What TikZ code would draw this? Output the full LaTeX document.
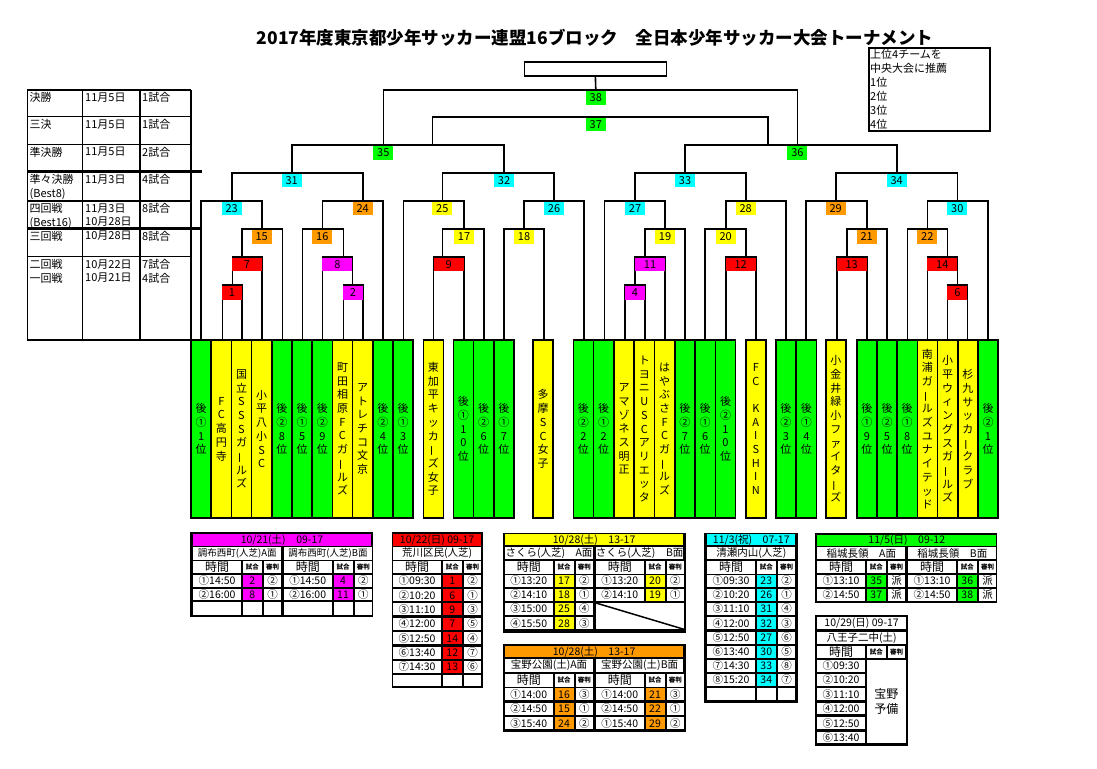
\documentclass[tikz,border=0pt]{standalone}
\usepackage{fontspec}
\setmainfont{Noto Sans CJK JP}
\usepackage{graphicx}
\usetikzlibrary{positioning}
\definecolor{mgreen}{RGB}{0,255,0}
\definecolor{myellow}{RGB}{255,255,0}
\definecolor{mcyan}{RGB}{0,255,255}
\definecolor{mmag}{RGB}{255,0,255}
\definecolor{mred}{RGB}{255,0,0}
\definecolor{morange}{RGB}{255,153,0}
\makeatletter
\def\vbarch{ー}
\newcommand\vstack[1]{\vbox{\baselineskip=13.7pt\lineskiplimit=-20pt\lineskip=0pt
  \@tfor\vch:=#1\do{\hbox to 14pt{\hss\ifx\vch\vbarch\rotatebox[origin=c]{90}{ー}\else\vch\fi\hss}}}}
\makeatother
\newcommand\hd{\fontsize{12}{12}\selectfont}
\newcommand\sm{\fontsize{6.5}{7}\selectfont\bfseries}
\newcommand\tcell[6]{\fill[#5] (#1,#2) rectangle (#3,#4);
  \node[tabtext] at ({(#1+#3)/2},{(#2+#4)/2}) {#6};}
\newcommand\trow[7]{%
  \tcell{#1}{#2}{#1+47.5}{#2+#3}{white}{#4}
  \tcell{#1+49.5}{#2}{#1+68.5}{#2+#3}{#7}{#5}
  \tcell{#1+70.5}{#2}{#1+88}{#2+#3}{white}{#6}}
\tikzset{
  brk/.style={line width=1.6pt},
  grid/.style={line width=1.5pt},
  thickln/.style={line width=3pt},
  mlabel/.style={anchor=north,inner sep=0pt,minimum height=13.5pt,font=\fontsize{11}{11}\selectfont},
  team/.style={draw,line width=1.6pt,minimum width=20.2pt,minimum height=178pt,inner sep=0pt,font=\fontsize{11}{13}\selectfont},
  tabtext/.style={inner sep=0pt,font=\fontsize{10.5}{11}\selectfont},
  lt/.style={anchor=north west,inner sep=1pt,align=left,font=\fontsize{11}{13.5}\selectfont}
}
\begin{document}
\begin{tikzpicture}[x=1pt,y=-1pt]
\useasboundingbox (0,0) rectangle (1097,768);
\fill[white] (0,0) rectangle (1097,768);
\node[font=\bfseries\fontsize{17.5}{20}\selectfont] (title) at (595,38) {2017年度東京都少年サッカー連盟16ブロック　全日本少年サッカー大会トーナメント};

% recommendation box
\draw[brk] (868.8,48.3) rectangle (989.8,131);
\node[lt,font=\fontsize{11}{14}\selectfont] (rec) at (869,48.5) {上位4チームを\\中央大会に推薦\\1位\\2位\\3位\\4位};

% schedule table on the left
\foreach \y in {90,116.7,144.3,201,256.7,340}
  \draw[grid] (27.3,\y) -- (191,\y);
\foreach \x in {27.3,82.7,140,191}
  \draw[grid] (\x,90) -- (\x,340);
\draw[thickln] (26.7,171.7) -- (201.7,171.7);
\draw[thickln] (26.7,228.3) -- (201.7,228.3);
\foreach \y/\ra/\rb/\rc [count=\i] in {90/決勝/11月5日/1試合, 116.7/三決/11月5日/1試合,
  144.3/準決勝/11月5日/2試合, 171.7/準々決勝\\(Best8)/11月3日/4試合,
  201/四回戦\\(Best16)/11月3日\\10月28日/8試合, 228.3/三回戦/10月28日/8試合,
  256.7/二回戦\\一回戦/10月22日\\10月21日/7試合\\4試合}
{
  \node[lt] (ra\i) at (28.5,\y+1.5) {\ra};
  \node[lt] (rb\i) at (84,\y+1.5) {\rb};
  \node[lt] (rc\i) at (141,\y+1.5) {\rc};
}

% teams
\foreach \x/\c/\name [count=\i] in {191/mgreen/後①1位, 211.2/myellow/FC高円寺, 231.4/myellow/国立SSSガールズ,
  251.6/myellow/小平八小SC, 271.8/mgreen/後②8位, 292/mgreen/後①5位, 312.2/mgreen/後②9位,
  332.4/myellow/町田相原FCガールズ, 352.6/myellow/アトレチコ文京, 372.8/mgreen/後②4位, 393/mgreen/後①3位,
  423.3/myellow/東加平キッカーズ女子, 453.3/mgreen/後①10位, 473.5/mgreen/後②6位, 493.7/mgreen/後①7位,
  533/myellow/多摩SC女子, 573.3/mgreen/後②2位, 593.6/mgreen/後①2位, 613.9/myellow/アマゾネス明正,
  634.2/myellow/トヨニUSCアリエッタ, 654.5/myellow/はやぶさFCガールズ, 674.8/mgreen/後②7位,
  695.1/mgreen/後①6位, 715.4/mgreen/後②10位, 745.7/myellow/FC~KAISHIN, 775.7/mgreen/後②3位,
  796.2/mgreen/後①4位, 825.7/myellow/小金井緑小ファイターズ, 856.7/mgreen/後①9位, 876.9/mgreen/後②5位,
  897.1/mgreen/後①8位, 917.3/myellow/南浦ガールズユナイテッド, 937.5/myellow/小平ウィングスガールズ,
  957.7/myellow/杉九サッカークラブ, 977.9/mgreen/後②1位}
{
  \node[team,fill=\c] (t\i) at (\x+10.1,429) {\expandafter\vstack\expandafter{\name}};
}

% bracket
\foreach \n/\yl/\xa/\ya/\xb/\yb/\lx/\lw/\lc in {
  1/285/222.3/340/241.7/340/232/20/mred, 2/285/343.3/340/362.7/340/353/20/mmag,
  4/285/625/340/645/340/635/20/mmag, 6/285/947.3/340/967.3/340/957.3/20/mred,
  7/256.7/232.3/285/261.7/340/247/30/mred, 8/256.7/322.3/340/352.3/285/337.3/30/mmag,
  9/256.7/433.3/340/464/340/448.7/30/mred, 11/256.7/635/285/665/340/650/30/mmag,
  12/256.7/725.7/340/755.7/340/740.7/30/mred, 13/256.7/836.7/340/866.7/340/851.7/30/mred,
  14/256.7/927.3/340/957.3/285/942.3/30/mred,
  15/229/241.7/256.7/282.3/340/261.7/20/morange, 16/229/302.3/340/343.3/256.7/322.3/20/morange,
  17/229/442.3/256.7/484/340/464/20/myellow, 18/229/504/340/544/340/524/20/myellow,
  19/229/645/256.7/685/340/665/20/myellow, 20/229/705/340/745.7/256.7/725.7/20/myellow,
  21/229/846.7/256.7/886.7/340/866.7/20/morange, 22/229/907.3/340/947.3/256.7/927.3/20/morange,
  23/200.7/201/340/261.7/229/231.7/20/mcyan, 24/200.7/322.3/229/382.7/340/362.7/20/morange,
  25/200.7/403.3/340/464/229/442.3/20/myellow, 26/200.7/524/229/584/340/554/20/mcyan,
  27/200.7/604.3/340/665/229/635/20/mcyan, 28/200.7/725.7/229/786/340/745.7/20/myellow,
  29/200.7/805.7/340/866.7/229/835.7/20/morange, 30/200.7/927.3/229/987.7/340/957.3/20/mcyan,
  31/172.7/231.7/200.7/362.7/200.7/291.7/20/mcyan, 32/172.7/442.3/200.7/554/200.7/504/20/mcyan,
  33/172.7/635/200.7/745.7/200.7/685/20/mcyan, 34/172.7/835.7/200.7/957.3/200.7/896.7/20/mcyan,
  35/145/291.7/172.7/504/172.7/383.3/20/mgreen, 36/145/685/172.7/896.7/172.7/797.4/20/mgreen,
  37/116.7/432.5/145/768/145/595.8/20/mgreen, 38/90/383.3/145/797.4/145/595.8/20/mgreen}
{
  \draw[brk] (\xa,\ya) |- (\xb,\yl) -- (\xb,\yb);
  \node[mlabel,fill=\lc,minimum width=\lw] (m\n) at (\lx,\yl+0.8) {\n};
}
\node[draw,line width=1.6pt,minimum width=142pt,minimum height=14.3pt,inner sep=0pt] (champ) at (595.4,68.9) {};
\draw[brk] (champ.south) -- (m38.north);

% 10/21 table
\fill[black] (190,531.7) rectangle (373.3,617.3);
\tcell{193.3}{534}{370.7}{545.7}{mmag}{10/21(土)　09-17}
\tcell{193.3}{547.3}{281.3}{559.5}{white}{\fontsize{9.5}{10}\selectfont 調布西町(人芝)A面}
\tcell{284}{547.3}{372}{559.5}{white}{\fontsize{9.5}{10}\selectfont 調布西町(人芝)B面}
\foreach \xo in {193.3,284}{
  \trow{\xo}{561}{12}{\hd 時間}{\sm 試合}{\sm 審判}{white}
  \trow{\xo}{602}{12.5}{}{}{}{white}
}
\foreach \yy/\ta/\ma/\ra/\tb/\mb/\rb in {575/①14:50/2/②/①14:50/4/②, 588.5/②16:00/8/①/②16:00/11/①}{
  \trow{193.3}{\yy}{11.7}{\ta}{\ma}{\ra}{mmag}
  \trow{284}{\yy}{11.7}{\tb}{\mb}{\rb}{mmag}
}

% 10/22 table
\fill[black] (391.7,532) rectangle (482.7,688.3);
\tcell{393.3}{534}{481}{545.7}{mred}{10/22(日) 09-17}
\tcell{393.3}{547.3}{481}{559.5}{white}{荒川区民(人芝)}
\trow{393.3}{561}{12}{\hd 時間}{\sm 試合}{\sm 審判}{white}
\foreach \yy/\ta/\ma/\ra in {575/①09:30/1/②, 589.3/②10:20/6/①, 603.3/③11:10/9/③, 617.7/④12:00/7/⑤,
  632.3/⑤12:50/14/④, 646.7/⑥13:40/12/⑦, 660.7/⑦14:30/13/⑥}{
  \trow{393.3}{\yy}{12}{\ta}{\ma}{\ra}{mred}
}
\trow{393.3}{674.5}{11.5}{}{}{}{white}

% 10/28 sakura table
\fill[black] (502.7,532.7) rectangle (686,632.7);
\tcell{505}{534}{683.3}{545.3}{myellow}{10/28(土)　13-17}
\tcell{505}{547}{593}{559.3}{white}{さくら(人芝)　A面}
\tcell{596}{547}{683.3}{559.3}{white}{さくら(人芝)　B面}
\foreach \xo in {505,596}
  \trow{\xo}{561}{12.5}{\hd 時間}{\sm 試合}{\sm 審判}{white};
\foreach \yy/\ta/\ma/\ra in {575/①13:20/17/②, 589/②14:10/18/①, 603/③15:00/25/④, 617.3/④15:50/28/③}
  \trow{505}{\yy}{12}{\ta}{\ma}{\ra}{myellow};
\foreach \yy/\ta/\ma/\ra in {575/①13:20/20/②, 589/②14:10/19/①}
  \trow{596}{\yy}{12}{\ta}{\ma}{\ra}{myellow};
\fill[white] (596,603) rectangle (684,629.3);
\draw[line width=1.5pt] (596,603) -- (684,629.3);

% 10/28 takano table
\fill[black] (502.7,644) rectangle (686,731.7);
\tcell{505}{646}{683.3}{657.3}{morange}{10/28(土)　13-17}
\tcell{505}{659.3}{593}{671.7}{white}{宝野公園(土)A面}
\tcell{596}{659.3}{683.3}{671.7}{white}{宝野公園(土)B面}
\foreach \xo in {505,596}
  \trow{\xo}{673.5}{13}{\hd 時間}{\sm 試合}{\sm 審判}{white};
\foreach \yy/\ta/\ma/\ra/\tb/\mb/\rb in {688.3/①14:00/16/③/①14:00/21/③, 702.7/②14:50/15/①/②14:50/22/①,
  717.3/③15:40/24/②/①15:40/29/②}{
  \trow{505}{\yy}{12}{\ta}{\ma}{\ra}{morange}
  \trow{596}{\yy}{12}{\tb}{\mb}{\rb}{morange}
}

% 11/3 table
\fill[black] (704,532.7) rectangle (797.7,702.7);
\tcell{707.3}{534}{795.3}{545.3}{mcyan}{11/3(祝)　07-17}
\tcell{707.3}{547}{795.3}{559.3}{white}{清瀬内山(人芝)}
\trow{707.3}{561}{12.5}{\hd 時間}{\sm 試合}{\sm 審判}{white}
\foreach \yy/\ta/\ma/\ra in {575/①09:30/23/②, 589/②10:20/26/①, 603/③11:10/31/④, 617.3/④12:00/32/③,
  631.7/⑤12:50/27/⑥, 646/⑥13:40/30/⑤, 660/⑦14:30/33/⑧, 674/⑧15:20/34/⑦}
  \trow{707.3}{\yy}{12}{\ta}{\ma}{\ra}{mcyan};
\trow{707.3}{688.3}{11.7}{}{}{}{white}

% 11/5 table
\fill[black] (815,532.5) rectangle (997.3,603.3);
\tcell{817.3}{535}{996.3}{546}{mgreen}{11/5(日)　09-12}
\tcell{817.3}{547.3}{905.3}{559.3}{white}{稲城長領　A面}
\tcell{908.3}{547.3}{996.3}{559.3}{white}{稲城長領　B面}
\foreach \xo in {817.3,908.3}
  \trow{\xo}{560.8}{12.5}{\hd 時間}{\sm 試合}{\sm 審判}{white};
\foreach \yy/\ta/\ma/\tb/\mb in {575/①13:10/35/①13:10/36, 588.5/②14:50/37/②14:50/38}{
  \trow{817.3}{\yy}{12}{\ta}{\ma}{派}{mgreen}
  \trow{908.3}{\yy}{12}{\tb}{\mb}{派}{mgreen}
}

% 10/29 table
\fill[black] (815,615) rectangle (908.3,745.5);
\tcell{817.3}{617.3}{906}{629.3}{white}{10/29(日) 09-17}
\tcell{817.3}{631.7}{906}{644}{white}{八王子二中(土)}
\trow{817.3}{646}{12.3}{\hd 時間}{\sm 試合}{\sm 審判}{white}
\foreach \yy/\ta in {660/①09:30, 674/②10:20, 688.3/③11:10, 702.7/④12:00, 717.3/⑤12:50, 731.7/⑥13:40}
  \tcell{817.3}{\yy}{864.8}{\yy+11.5}{white}{\ta};
\fill[white] (866.8,660) rectangle (906,743.2);
\node[tabtext,align=center,font=\fontsize{12}{15}\selectfont] (yobi) at (886.4,701.6) {宝野\\予備};
\end{tikzpicture}
\end{document}
